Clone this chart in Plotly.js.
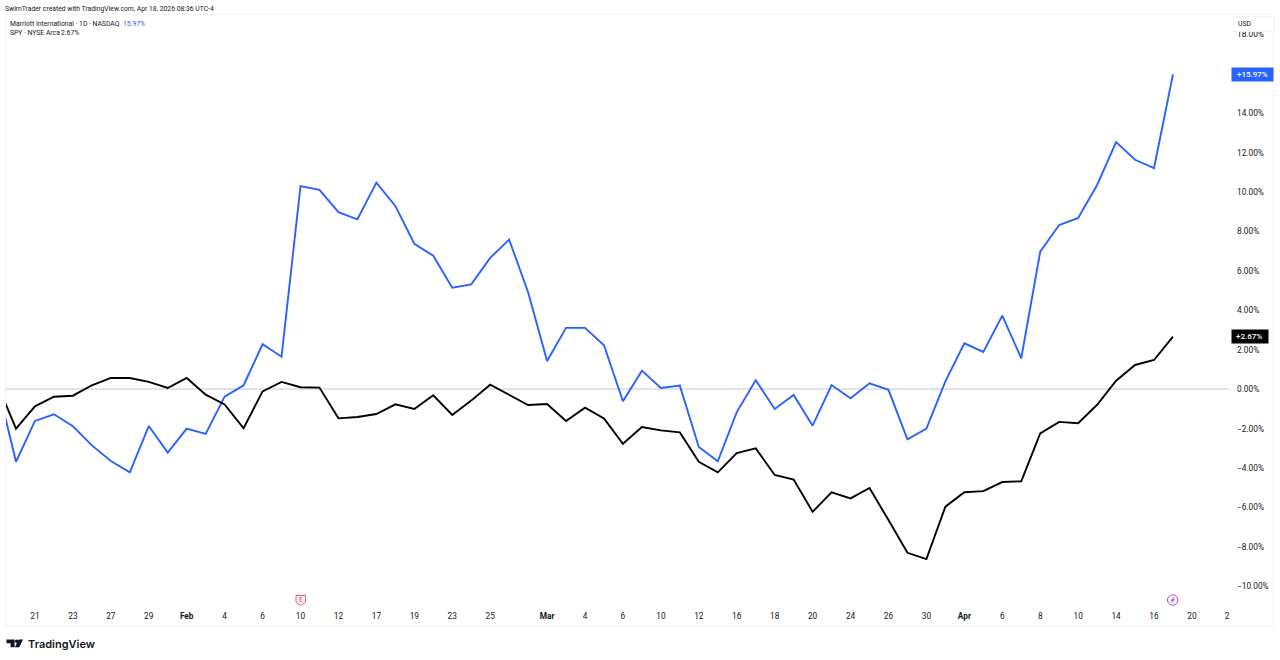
<!DOCTYPE html>
<html>
<head>
<meta charset="utf-8">
<script src="https://cdn.plot.ly/plotly-3.0.1.min.js"></script>
<style>html,body{margin:0;padding:0;background:#fff}#chart{width:1280px;height:660px}</style>
</head>
<body>
<div id="chart"></div>
<script>
// Session number 0 = first full session visible (Jan 20); -1 = the one cut off at the left edge
const sessions = [-1,0,1,2,3,4,5,6,7,8,9,10,11,12,13,14,15,16,17,18,19,20,21,22,23,24,25,26,27,28,29,30,31,32,33,34,35,36,37,38,39,40,41,42,43,44,45,46,47,48,49,50,51,52,53,54,55,56,57,58,59,60,61];
const marValues = [0.3,-3.68,-1.61,-1.27,-1.88,-2.85,-3.64,-4.22,-1.87,-3.22,-2.00,-2.27,-0.38,0.20,2.28,1.65,10.30,10.11,8.98,8.62,10.48,9.30,7.38,6.77,5.15,5.32,6.66,7.59,4.92,1.43,3.11,3.11,2.23,-0.61,0.94,0.06,0.18,-2.93,-3.66,-1.16,0.45,-1.00,-0.29,-1.85,0.21,-0.46,0.30,-0.03,-2.54,-2.00,0.40,2.33,1.89,3.73,1.57,6.98,8.33,8.69,10.36,12.54,11.64,11.22,15.97];
const spyValues = [0.3,-2.00,-0.87,-0.38,-0.33,0.20,0.57,0.57,0.37,0.06,0.57,-0.28,-0.77,-1.98,-0.11,0.37,0.10,0.08,-1.48,-1.41,-1.26,-0.77,-1.00,-0.31,-1.31,-0.58,0.23,-0.29,-0.80,-0.75,-1.61,-0.94,-1.48,-2.77,-1.92,-2.09,-2.19,-3.68,-4.22,-3.24,-3.00,-4.35,-4.58,-6.22,-5.23,-5.54,-5.01,-6.64,-8.30,-8.62,-5.96,-5.23,-5.17,-4.71,-4.67,-2.24,-1.66,-1.73,-0.79,0.43,1.23,1.48,2.67];
const xTickSessions = [1,3,5,7,9,11,13,15,17,19,21,23,25,28,30,32,34,36,38,40,42,44,46,48,50,52,54,56,58,60,62,63.85];
const xTickLabels = ["21","23","27","29","<b>Feb</b>","4","6","10","12","17","19","23","25","<b>Mar</b>","4","6","10","12","16","18","20","24","26","30","<b>Apr</b>","6","8","10","14","16","20","2"];
const yTickValues = [-10,-8,-6,-4,-2,0,2,4,6,8,10,12,14,18];
const yTickLabels = ["\u221210.00%","\u22128.00%","\u22126.00%","\u22124.00%","\u22122.00%","0.00%","2.00%","4.00%","6.00%","8.00%","10.00%","12.00%","14.00%","18.00%"];

const L = 6, R = 1229, T = 15, B = 607, W = 1280, H = 660;
const px = x => (x - L) / (R - L);
const py = y => 1 - (y - T) / (B - T);
const FONT = "Roboto, sans-serif";
const INK = "#131722", BLUE = "#2962ff", EDGE = "#f0f3fa";

function label(text, x, y, opts) {
  return Object.assign({
    text, xref: "paper", yref: "paper", x: px(x), y: py(y), xanchor: "left", yanchor: "middle",
    showarrow: false, font: {family: FONT, size: 6.8, color: INK}, borderpad: 0
  }, opts || {});
}
function pathFrom(points) {
  return points.map((p, i) => (i ? "L" : "M") + px(p[0]) + "," + py(p[1])).join(" ") + " Z";
}
function paperShape(path, fill, line, width) {
  return {type: "path", xref: "paper", yref: "paper", path, fillcolor: fill, line: {color: line, width: width}, layer: "above"};
}

const traces = [
  {x: sessions, y: marValues, type: "scatter", mode: "lines", name: "Marriott International", line: {color: BLUE, width: 1.9, shape: "linear"}},
  {x: sessions, y: spyValues, type: "scatter", mode: "lines", name: "SPY", line: {color: "#000000", width: 1.9, shape: "linear"}}
];

const shapes = [
  {type: "rect", xref: "paper", yref: "paper", x0: px(5.5), x1: px(1273), y0: py(14.5), y1: py(626), line: {color: EDGE, width: 1}, fillcolor: "rgba(0,0,0,0)", layer: "below"},
  // earnings marker
  paperShape(pathFrom([[296,595.5],[305.5,595.5],[305.5,602],[300.7,605.5],[296,602]]), "#ffffff", "#f7525f", 1),
  // flash marker
  {type: "circle", xref: "paper", yref: "paper", x0: px(1167.5), x1: px(1178), y0: py(594.8), y1: py(605.2), line: {color: "#ab47bc", width: 1}, fillcolor: "#ffffff", layer: "above"},
  paperShape(pathFrom([[1174.2,597],[1170.8,600.6],[1172.6,600.6],[1171.4,603],[1174.8,599.4],[1173,599.4]]), "#ab47bc", "#ab47bc", 0.3),
  // TradingView logo
  paperShape(pathFrom([[6.5,639.5],[14.6,639.5],[14.6,647.3],[10.6,647.3],[10.6,643.2],[6.5,643.2]]), "#131722", "#131722", 0),
  {type: "circle", xref: "paper", yref: "paper", x0: px(14.9), x1: px(18.5), y0: py(639.5), y1: py(643.1), line: {width: 0}, fillcolor: "#131722", layer: "above"},
  paperShape(pathFrom([[23,639.5],[19.3,647.3],[14.9,647.3],[18.6,639.5]]), "#131722", "#131722", 0)
];

const annotations = [
  label("SwimTrader created with TradingView.com, Apr 18, 2026 08:36 UTC-4", 4, 8.7),
  label("Marriott International \u00b7 1D \u00b7 NASDAQ", 8.5, 23.7),
  label("15.97%", 122, 23.7, {font: {family: FONT, size: 6.8, color: BLUE}}),
  label("SPY \u00b7 NYSE Arca", 8.5, 32.7),
  label("2.67%", 60, 32.7),
  label(" ", 1233, 24, {width: 40, height: 14, bgcolor: "#ffffff", bordercolor: EDGE, borderwidth: 1}),
  label("USD", 1237, 24.5, {font: {family: FONT, size: 6.8, color: INK}}),
  label(" ", 1231, 74.3, {width: 41, height: 13, bgcolor: BLUE}),
  label("+15.97%", 1236, 74.3, {font: {family: FONT, size: 8, color: "#ffffff", weight: 500}}),
  label(" ", 1231, 336.5, {width: 36, height: 13, bgcolor: "#000000"}),
  label("+2.67%", 1235, 336.5, {font: {family: FONT, size: 8, color: "#ffffff", weight: 500}}),
  label("E", 300.7, 599.8, {xanchor: "center", font: {family: FONT, size: 6.5, color: "#f7525f", weight: 500}}),
  label("TradingView", 26.5, 643.5, {font: {family: "Inter, sans-serif", size: 11, color: "#131722", weight: 600}})
];

const layout = {
  width: W, height: H, autosize: false,
  margin: {l: L, r: W - R, t: T, b: H - B, pad: 0},
  paper_bgcolor: "#ffffff", plot_bgcolor: "#ffffff",
  showlegend: false,
  font: {family: FONT, size: 8.3, color: INK},
  xaxis: {
    type: "linear", range: [(L - 16) / 18.967, (R - 16) / 18.967], fixedrange: true,
    tickmode: "array", tickvals: xTickSessions, ticktext: xTickLabels,
    showgrid: false, zeroline: false, showline: false, ticks: "", ticklabelstandoff: 3,
    tickangle: 0, tickfont: {family: FONT, size: 8.3, color: INK}
  },
  yaxis: {
    type: "linear", side: "right", range: [(389.2 - B) / 19.71, (389.2 - T) / 19.71], fixedrange: true,
    tickmode: "array", tickvals: yTickValues, ticktext: yTickLabels,
    showgrid: false, zeroline: true, zerolinecolor: "#e0e3eb", zerolinewidth: 1.5,
    showline: false, ticks: "", ticklabelstandoff: 7,
    tickfont: {family: FONT, size: 8.3, color: INK}
  },
  shapes, annotations
};

Plotly.newPlot("chart", traces, layout, {displayModeBar: false, staticPlot: true});
</script>
</body>
</html>
